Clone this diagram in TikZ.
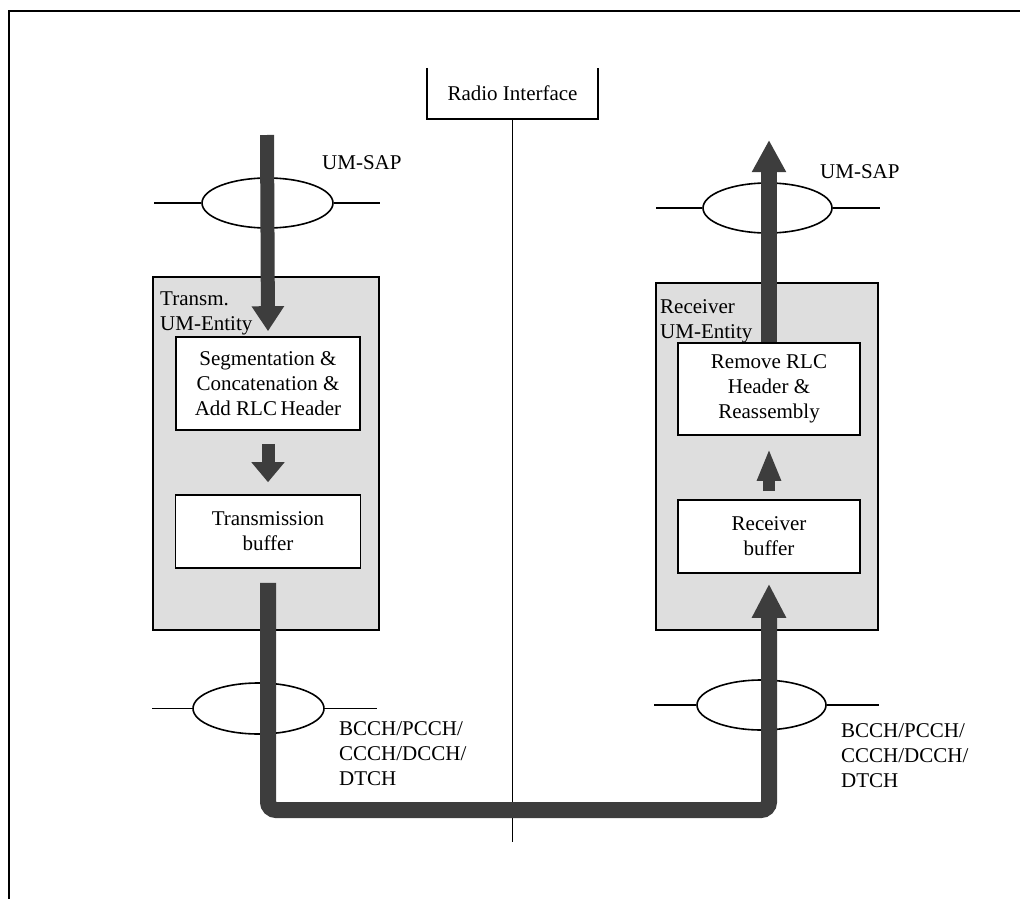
\documentclass[tikz,border=0pt]{standalone}
\usepackage{fontspec}
\setmainfont{Liberation Serif}
\usetikzlibrary{shapes.geometric,arrows.meta}
\begin{document}
\begin{tikzpicture}[x=1pt,y=-1pt,
  every node/.style={font=\fontsize{21}{25}\selectfont},
  outer/.style={draw, line width=1.6pt, fill=black!13, inner sep=0pt},
  inbox/.style={draw, line width=1.6pt, fill=white, align=center, inner sep=0pt},
  sap/.style={ellipse, draw, line width=1.6pt, fill=white, inner sep=0pt},
  stub/.style={line width=1.6pt},
  fat/.style={draw=black!76},
  lbl/.style={align=left, inner sep=0pt}]
\useasboundingbox (0,0) rectangle (1020,899);
% frame
\draw[line width=2.5pt] (9,899) -- (9,11) -- (1020,11);
% radio interface
\node[minimum width=171pt, minimum height=51pt, inner sep=0pt] (radio) at (512.5,93.5) {Radio Interface};
\draw[line width=1.6pt] (radio.north west) -- (radio.south west) -- (radio.south east) -- (radio.north east);
\coordinate (rbot) at (512.5,842);
\draw[line width=1.3pt] (radio.south) -- (rbot);
% entities
\node[outer, minimum width=226pt, minimum height=353pt] (ltx) at (266,453.5) {};
\node[outer, minimum width=222pt, minimum height=347pt] (lrx) at (767,456.5) {};
\node[inbox, minimum width=184pt, minimum height=93pt] (seg) at (268,383.5) {Segmentation \&\\Concatenation \&\\Add RLC\,Header};
\node[inbox, minimum width=185pt, minimum height=73pt] (tbuf) at (268,531.5) {Transmission\\buffer};
\node[inbox, minimum width=182pt, minimum height=92pt] (rem) at (769,389) {Remove RLC\\Header \&\\Reassembly};
\node[inbox, minimum width=182pt, minimum height=73pt] (rbuf) at (769,536.5) {Receiver\\buffer};
\node[lbl, anchor=north west] (ltxl) at (160,292) {Transm.\\UM-Entity};
\node[lbl, anchor=north west] (lrxl) at (660,299) {Receiver\\UM-Entity};
% SAPs
\node[sap, minimum width=131pt, minimum height=50pt] (e1) at (267.5,203) {};
\node[sap, minimum width=129pt, minimum height=50pt] (e2) at (767.5,208) {};
\node[sap, minimum width=131pt, minimum height=51pt] (e3) at (258.5,708.5) {};
\node[sap, minimum width=129pt, minimum height=50pt] (e4) at (761.5,705) {};
\draw[stub] (e1.west) -- ++(-47,0) (e1.east) -- ++(46,0);
\draw[stub] (e2.west) -- ++(-46,0) (e2.east) -- ++(47,0);
\draw[stub] (e3.west) -- ++(-40,0) (e3.east) -- ++(52,0);
\draw[stub] (e4.west) -- ++(-42,0) (e4.east) -- ++(52,0);
\node[lbl, anchor=west] (sapl) at (322,163) {UM-SAP};
\node[lbl, anchor=west] (sapr) at (820,172) {UM-SAP};
\node[lbl, anchor=north west] (chl) at (339,721) {BCCH/PCCH/\\CCCH/DCCH/\\DTCH};
\node[lbl, anchor=north west] (chr) at (841,723) {BCCH/PCCH/\\CCCH/DCCH/\\DTCH};
% thick arrows
\coordinate (lin) at (267,135);
\coordinate (rout) at (769,140);
\coordinate (cb) at (0,810);
\draw[fat, line width=14pt, -{Triangle[width=31pt,length=25pt]}] (lin) -- ([yshift=5pt]seg.north);
\draw[fat, line width=13pt, -{Triangle[width=32pt,length=20pt]}] ([yshift=-13pt]seg.south) -- ([yshift=12pt]tbuf.north);
\draw[fat, line width=16pt, rounded corners=8pt, -{Triangle[width=32pt,length=34pt]}] ([yshift=-14pt]tbuf.south) -- (tbuf.south |- cb) -- (rbuf.south |- cb) -- ([yshift=-10pt]rbuf.south);
\draw[fat, line width=12pt, -{Triangle[width=22pt,length=32pt]}] ([yshift=8pt]rbuf.north) -- ([yshift=-13pt]rem.south);
\draw[fat, line width=16pt, -{Triangle[width=32pt,length=32pt]}] (rem.north) -- (rout);
\end{tikzpicture}
\end{document}
